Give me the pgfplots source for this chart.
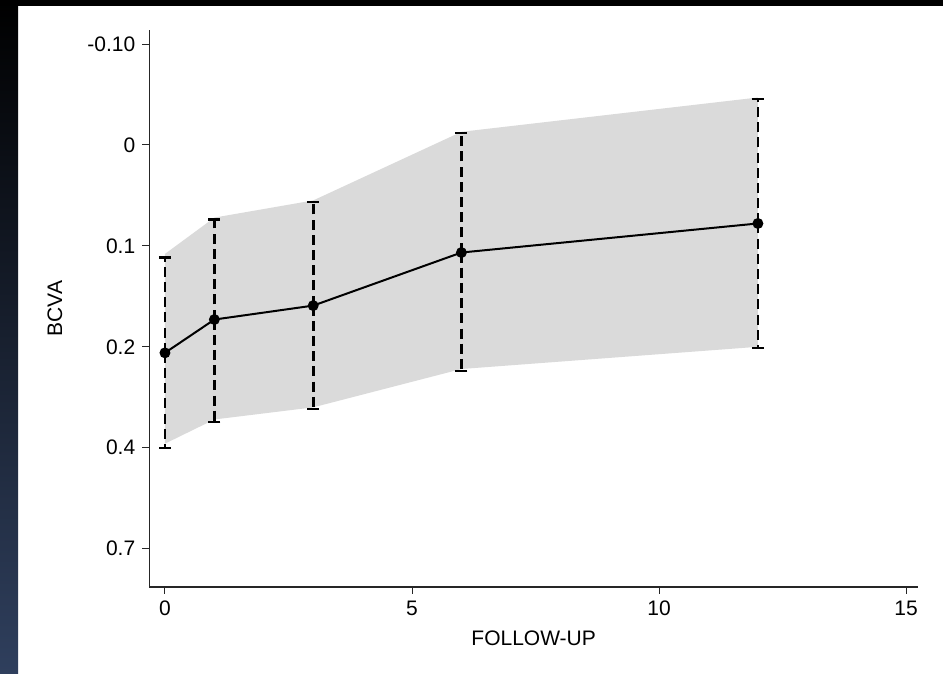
\documentclass[border=0pt]{standalone}
\usepackage{fontspec}
\setmainfont{Liberation Sans}
\usepackage{pgfplots}
\usepackage{pgfplotstable}
\pgfplotsset{compat=1.18}
\definecolor{bandgray}{RGB}{218,218,218}
\definecolor{stripblue}{RGB}{47,63,93}
\pgfplotstableread{
x m hi lo
0 -3.06 -2.115 -4.0
1 -2.73 -1.738 -3.744
3 -2.592 -1.566 -3.615
6 -2.066 -0.884 -3.237
12 -1.778 -0.546 -3.014
}\data
\begin{document}
\begin{tikzpicture}
\useasboundingbox (0,0) rectangle (471.5pt,337pt);
\fill[white] (0,0) rectangle (471.5pt,337pt);
\shade[top color=black, middle color={rgb,255:red,12;green,16;blue,26}, bottom color=stripblue] (0,0) rectangle (9pt,337pt);
\fill[black] (0,334pt) rectangle (471.5pt,337pt);
\begin{axis}[
  at={(74.65pt,43.5pt)}, anchor=south west,
  width=384.35pt, height=278.5pt, scale only axis,
  xmin=-0.317, xmax=15.24,
  ymin=-5.38, ymax=0.139,
  axis lines*=left,
  axis line style={black!85, line width=0.6pt},
  tick align=outside,
  major tick length=3.5pt,
  tick style={black!85, line width=0.5pt},
  xtick={0,5,10,15},
  ytick={-5,-4,-3,-2,-1,0},
  yticklabels={0.7,0.4,0.2,0.1,0,-0.10},
  /pgf/number format/assume math mode=true,
  ticklabel style={font=\fontsize{10.5}{12}\selectfont},
  xlabel={FOLLOW-UP},
  ylabel={BCVA},
  label style={font=\fontsize{10.5}{12}\selectfont},
  xlabel style={at={(axis description cs:0.5,-0.0916)}, anchor=center},
  ylabel style={at={(axis description cs:-0.1227,0.5)}, anchor=center},
  clip=false,
]
\addplot[fill=bandgray, draw=none] coordinates {
  (0,-2.08) (1,-1.72) (3,-1.55) (6,-0.87) (12,-0.53)
  (12,-3.0) (6,-3.22) (3,-3.60) (1,-3.72) (0,-3.96)
} -- cycle;
\addplot[black, line width=1pt, mark=*, mark size=2.2pt,
  error bars/.cd, y dir=both, y explicit,
  error mark=|,
  error bar style={line width=1.4pt, dash pattern=on 5pt off 2.6pt},
  error mark options={line width=1.2pt, mark size=3pt, solid}]
  table[x=x, y=m, y error plus expr=\thisrow{hi}-\thisrow{m}, y error minus expr=\thisrow{m}-\thisrow{lo}] {\data};
\end{axis}
\end{tikzpicture}
\end{document}
